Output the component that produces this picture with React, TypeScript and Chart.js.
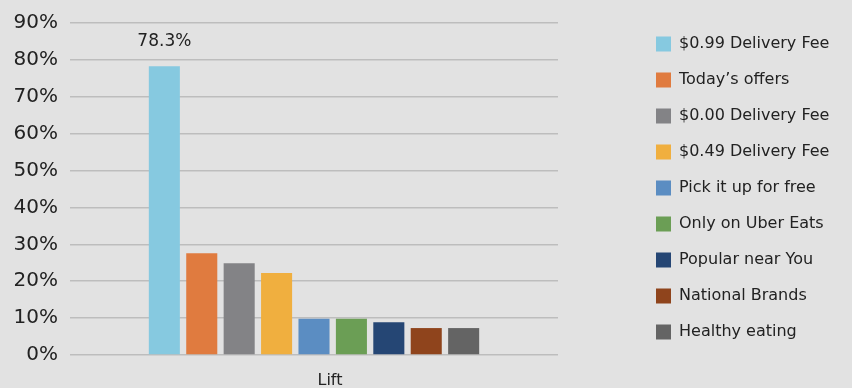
import React, { useEffect, useRef } from 'react';
import { Chart, registerables } from 'chart.js';

Chart.register(...registerables);

const categories = ['Lift'];
const seriesNames = [
  '$0.99 Delivery Fee',
  'Today’s offers',
  '$0.00 Delivery Fee',
  '$0.49 Delivery Fee',
  'Pick it up for free',
  'Only on Uber Eats',
  'Popular near You',
  'National Brands',
  'Healthy eating',
];
const seriesValues = [78.3, 27.6, 24.9, 22.2, 9.8, 9.8, 8.9, 7.3, 7.3];
const seriesColors = ['#86c9e0', '#e07b3f', '#838386', '#f0af3f', '#5b8dc2', '#6b9e55', '#254674', '#8f441c', '#646464'];
const valueLabels = ['78.3%', '', '', '', '', '', '', '', ''];
const yMin = 0;
const yMax = 90;
const yStep = 10;

const FONT = '"DejaVu Sans", sans-serif';

export default function App() {
  const ref = useRef<HTMLCanvasElement | null>(null);
  useEffect(() => {
    if (!ref.current) return;
    const valueLabelPlugin = {
      id: 'valueLabels',
      afterDatasetsDraw(chart: any) {
        const ctx = chart.ctx;
        ctx.save();
        ctx.font = `17px ${FONT}`;
        ctx.fillStyle = '#222';
        ctx.textAlign = 'center';
        ctx.textBaseline = 'middle';
        chart.data.datasets.forEach((ds: any, i: number) => {
          const text = valueLabels[i];
          if (!text) return;
          const bar = chart.getDatasetMeta(i).data[0];
          ctx.fillText(text, bar.x, bar.y - 25);
        });
        ctx.restore();
      },
    };
    const legendWidthPlugin = {
      id: 'legendWidth',
      afterInit(chart: any) {
        const lg = chart.legend;
        if (!lg) return;
        const orig = lg.fit.bind(lg);
        lg.fit = () => {
          orig();
          lg.width = 216;
        };
      },
    };
    const chart = new Chart(ref.current, {
      type: 'bar',
      data: {
        labels: categories,
        datasets: seriesNames.map((name, i) => ({
          label: name,
          data: [seriesValues[i]],
          backgroundColor: seriesColors[i],
          borderWidth: 0,
          categoryPercentage: 0.69,
          barPercentage: 0.83,
        })),
      },
      options: {
        animation: false,
        responsive: false,
        devicePixelRatio: 1,
        layout: { padding: { top: 0, bottom: 0, left: 0, right: 0 } },
        plugins: {
          tooltip: { enabled: false },
          legend: {
            position: 'right',
            align: 'start',
            title: { display: true, text: '', font: { size: 10, lineHeight: 1.6 }, padding: 0 },
            labels: {
              boxWidth: 15,
              boxHeight: 15,
              padding: 20,
              color: '#222',
              font: { family: FONT, size: 16 },
            },
          },
        },
        scales: {
          x: {
            grid: { display: false },
            border: { display: false },
            ticks: { color: '#222', font: { family: FONT, size: 16 }, padding: 8, labelOffset: 16 },
            afterFit(scale: any) { scale.height = 33; },
          },
          y: {
            min: yMin,
            max: yMax,
            ticks: {
              stepSize: yStep,
              autoSkip: false,
              color: '#222',
              padding: 12,
              font: { family: FONT, size: 20, lineHeight: 1.1 },
              callback: (v: any) => `${v}%`,
            },
            grid: { color: '#bdbdbd', lineWidth: 1.5, drawTicks: false },
            border: { display: false },
            afterFit(scale: any) { scale.width = 70; },
          },
          pad: {
            type: 'linear',
            position: 'right',
            display: true,
            grid: { display: false },
            border: { display: false },
            ticks: { display: false },
            afterFit(scale: any) { scale.width = 78; },
          },
        },
      },
      plugins: [valueLabelPlugin, legendWidthPlugin],
    });
    return () => chart.destroy();
  }, []);
  return (
    <div style={{ position: 'fixed', left: 0, top: 0, width: 852, height: 388, background: '#e2e2e2' }}>
      <canvas ref={ref} width={852} height={388} style={{ display: 'block' }} />
    </div>
  );
}
